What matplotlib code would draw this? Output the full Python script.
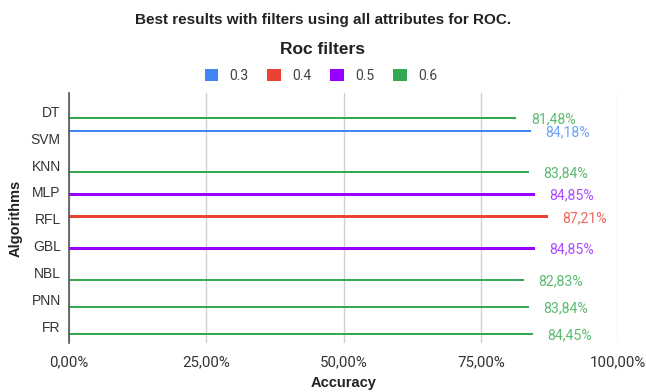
import numpy as np
import matplotlib
matplotlib.use("Agg")
import matplotlib.pyplot as plt
from matplotlib.patches import Patch

plt.rcParams["font.family"] = ["Roboto", "DejaVu Sans"]
HEAD = ["Liberation Sans", "DejaVu Sans"]

# Algorithms (top to bottom) and best accuracy per ROC filter threshold
algorithms = ["DT", "SVM", "KNN", "MLP", "RFL", "GBL", "NBL", "PNN", "FR"]
filters = ["0.3", "0.4", "0.5", "0.6"]
nan = np.nan
acc_03 = [nan, 84.18, nan, nan, nan, nan, nan, nan, nan]
acc_04 = [nan, nan, nan, nan, 87.21, nan, nan, nan, nan]
acc_05 = [nan, nan, nan, 84.85, nan, 84.85, nan, nan, nan]
acc_06 = [81.48, nan, 83.84, nan, nan, nan, 82.83, 83.84, 84.45]
x_ticks = [0, 25, 50, 75, 100]

series = [acc_03, acc_04, acc_05, acc_06]
colors = ["#4285F4", "#EA4335", "#9900FF", "#34A853"]
label_colors = ["#6FA3F7", "#EF675B", "#B04CFF", "#5DBB70"]

W, H = 646, 392
fig = plt.figure(figsize=(W / 100, H / 100), dpi=100)
ax = fig.add_axes([69 / W, 1 - 343 / H, (618 - 69) / W, (343 - 93) / H])

pos = np.arange(len(algorithms))
slot = 0.174
bar_h = 0.095
for k, (vals, c, lc) in enumerate(zip(series, colors, label_colors)):
    off = (k - 1.5) * slot
    v = np.array(vals, dtype=float)
    ax.barh(pos + off, np.nan_to_num(v), height=bar_h, color=c, zorder=3)
    for i, val in enumerate(v):
        if np.isnan(val):
            continue
        txt = f"{val:.2f}".replace(".", ",") + "%"
        ax.annotate(txt, xy=(val, pos[i] + off), xytext=(10.4, -1.0),
                    textcoords="offset points", va="center", ha="left",
                    color=lc, fontsize=10.2, annotation_clip=False)

ax.set_xlim(0, 100)
ax.set_ylim(len(algorithms) - 1 + 0.6, -0.67)
ax.set_xticks(x_ticks)
ax.set_xticklabels([f"{t:.2f}".replace(".", ",") + "%" for t in x_ticks],
                   fontsize=10.8)
ax.set_yticks(pos)
ax.set_yticklabels(algorithms, family=HEAD, fontsize=10)
ax.tick_params(axis="both", length=0, colors="#333333")
ax.tick_params(axis="x", pad=9)
ax.tick_params(axis="y", pad=6)

for s in ["top", "right", "bottom"]:
    ax.spines[s].set_visible(False)
ax.spines["left"].set_color("#555555")
ax.spines["left"].set_linewidth(1.2)
ax.spines["left"].set_zorder(4)
ax.grid(axis="x", color="#d0d0d0", linewidth=1.0, zorder=0)
ax.grid(axis="y", visible=False)
ax.set_axisbelow(True)

ax.set_xlabel("Accuracy", family=HEAD, fontsize=10.5, fontweight="bold",
              color="#222222", labelpad=5)
ax.set_ylabel("Algorithms", family=HEAD, fontsize=10.5, fontweight="bold",
              color="#222222", labelpad=6)

fig.text(323 / W, 1 - 20 / H, "Best results with filters using all attributes for ROC.",
         ha="center", va="center", family=HEAD, fontsize=11, fontweight="bold",
         color="#222222")
fig.text(322 / W, 1 - 49 / H, "Roc filters", ha="center", va="center", family=HEAD,
         fontsize=12.5, fontweight="bold", color="#222222")

handles = [Patch(facecolor=c, edgecolor="none") for c in colors]
leg = fig.legend(handles, filters, loc="center", bbox_to_anchor=(321 / W, 1 - 76 / H),
                 ncol=4, frameon=False, handlelength=1.0, handleheight=1.0,
                 handletextpad=0.8, columnspacing=1.35, fontsize=10)
for t in leg.get_texts():
    t.set_color("#444444")

fig.savefig("out.png", dpi=100)
